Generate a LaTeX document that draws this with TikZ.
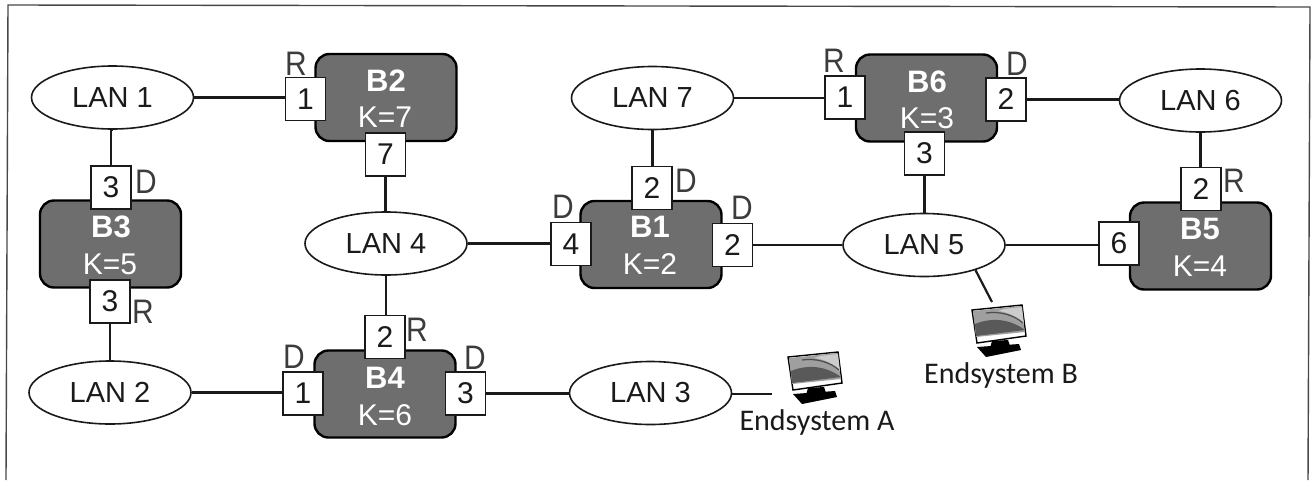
\documentclass[tikz,border=0pt]{standalone}
\usepackage{fontspec}
\setmainfont{Liberation Sans}
\newfontfamily\calib{Carlito}
\newfontfamily\condlabel[FakeStretch=0.88]{Liberation Sans}
\usetikzlibrary{shapes.geometric}
\definecolor{bridgefill}{HTML}{6E6E6E}
\definecolor{ink}{HTML}{1A1A1A}
\tikzset{
  lan/.style={ellipse,draw=ink,line width=1.6pt,fill=white,minimum width=162pt,minimum height=63pt,inner sep=0pt,font=\fontsize{29}{30}\selectfont,text=ink},
  bridge/.style={draw=black,line width=2.4pt,fill=bridgefill,rounded corners=14pt,minimum width=141pt,minimum height=87pt,inner sep=0pt},
  port/.style={draw=ink,line width=1.4pt,fill=white,minimum width=40pt,minimum height=43pt,inner sep=0pt,font=\fontsize{30}{30}\selectfont,text=ink},
  bname/.style={inner sep=0pt,text=white,font=\fontsize{31}{32}\selectfont\bfseries},
  kval/.style={inner sep=0pt,text=white,font=\fontsize{30}{32}\selectfont},
  role/.style={inner sep=0pt,text=ink!85,font=\fontsize{34}{36}\selectfont\condlabel},
  link/.style={line width=2.2pt,draw=ink},
  endname/.style={inner sep=0pt,anchor=base,text=ink,font=\fontsize{30}{32}\selectfont\calib},
  frameline/.style={line width=1.4pt,draw=ink!80}
}
\newcommand{\monitor}[2]{%
  \begin{scope}[shift={(#1,#2)}]
    \fill[black] (5,42) -- (47,39) -- (49,45) -- (14,52) -- cycle;
    \fill[black] (20,36) -- (36,35) -- (38,41) -- (18,43) -- cycle;
    \fill[white,draw=black,line width=1.4pt] (0,5) -- (50,0) -- (54,31) -- (5,38) -- cycle;
    \fill[gray!75] (1,6) -- (49,1) -- (53,27) -- (4,32) -- cycle;
    \fill[black!65] (3,19) .. controls (20,12) and (38,14) .. (53,25) -- (4,31) -- cycle;
    \fill[white!80!black] (26,6) .. controls (36,7) and (46,12) .. (52,19) -- (50,2) -- (32,4) -- cycle;
    \draw[black!70,line width=1.2pt] (14,8) .. controls (28,6) and (42,10) .. (51,18);
  \end{scope}}
\begin{document}
\begin{tikzpicture}[x=1pt,y=-1pt]
\useasboundingbox (0,0) rectangle (1313,480);
\coordinate (fbl) at (6,480);
\coordinate (ftl) at (8,5);
\coordinate (ftr) at (1310,7);
\coordinate (fbr) at (1308,480);
\draw[frameline] (fbl) -- (ftl) -- (ftr) -- (fbr);

% bridges
\node[bridge] (B2) at (386,97.5) {};
\node[bridge] (B3) at (110.5,244) {};
\node[bridge] (B4) at (385,394) {};
\node[bridge] (B1) at (651,244.5) {};
\node[bridge] (B6) at (926.5,98) {};
\node[bridge] (B5) at (1200.5,246) {};

\node[bname] (tB2) at (386,81) {B2};
\node[kval] (kB2) at (385,117) {K=7};
\node[bname] (tB3) at (111,227) {B3};
\node[kval] (kB3) at (110,264) {K=5};
\node[bname] (tB4) at (385,378) {B4};
\node[kval] (kB4) at (385,415) {K=6};
\node[bname] (tB1) at (650,227) {B1};
\node[kval] (kB1) at (650,264) {K=2};
\node[bname] (tB6) at (927,82) {B6};
\node[kval] (kB6) at (927,118) {K=3};
\node[bname] (tB5) at (1200,229) {B5};
\node[kval] (kB5) at (1200,266) {K=4};

% ports
\node[port] (p21) at (305.5,99) {1};
\node[port] (p27) at (385.5,154.5) {7};
\node[port] (p3t) at (111,187.5) {3};
\node[port] (p3b) at (110,301.5) {3};
\node[port] (p42) at (385,337) {2};
\node[port] (p41) at (303,393.5) {1};
\node[port] (p43) at (465.5,393.5) {3};
\node[port] (p1t) at (652,188) {2};
\node[port] (p14) at (571,244) {4};
\node[port] (p1r) at (732.5,245) {2};
\node[port] (p61) at (845,97.5) {1};
\node[port] (p63) at (924.5,153.5) {3};
\node[port] (p62) at (1006,99.5) {2};
\node[port] (p52) at (1201,189) {2};
\node[port] (p56) at (1119,243.5) {6};

% LANs
\node[lan] (L1) at (112.5,97.5) {LAN 1};
\node[lan] (L2) at (110,392.5) {LAN 2};
\node[lan] (L3) at (650.5,393) {LAN 3};
\node[lan] (L4) at (386,243.5) {LAN 4};
\node[lan] (L5) at (924,245) {LAN 5};
\node[lan] (L6) at (1200.5,100.5) {LAN 6};
\node[lan] (L7) at (652.5,98) {LAN 7};

% role labels
\node[role] (r21) at (296,64) {R};
\node[role] (r3t) at (146,182) {D};
\node[role] (r3b) at (143,312) {R};
\node[role] (r42) at (417,330) {R};
\node[role] (r41) at (294,357) {D};
\node[role] (r43) at (475,358) {D};
\node[role] (r1t) at (686,181) {D};
\node[role] (r14) at (563,207) {D};
\node[role] (r1r) at (742,208) {D};
\node[role] (r61) at (834,61) {R};
\node[role] (r62) at (1017,64) {D};
\node[role] (r52) at (1234,181) {R};

% links
\draw[link] (L1.east) -- (L1.east -| p21.west);
\draw[link] (L1.south) -- (L1.south -| p3t.north) -- (p3t.north);
\draw[link] (p3b.south) -- (p3b.south |- L2.north);
\draw[link] (p27.south) -- (p27.south |- L4.north);
\draw[link] (L4.south) -- (L4.south |- p42.north);
\draw[link] (L2.east) -- (L2.east -| p41.west);
\draw[link] (p43.east) -- (p43.east -| L3.west);
\draw[link] (L4.east) -- (L4.east -| p14.west);
\draw[link] (L7.south) -- (L7.south |- p1t.north);
\draw[link] (L7.east) -- (L7.east -| p61.west);
\draw[link] (p1r.east) -- (p1r.east -| L5.west);
\draw[link] (p63.south) -- (p63.south |- L5.north);
\draw[link] (L5.east) -- (L5.east -| p56.west);
\draw[link] (p62.east) -- (p62.east -| L6.west);
\draw[link] (L6.south) -- (L6.south |- p52.north);
\coordinate (endA) at (772,394);
\coordinate (endB) at (992,302);
\draw[link] (L3.east) -- (L3.east |- endA) -- (endA);
\draw[link] (L5.-26) -- (endB);

% end systems
\monitor{788}{352}
\monitor{972}{305}
\node[endname] (eA) at (817,430) {Endsystem A};
\node[endname] (eB) at (1001,383) {Endsystem B};
\end{tikzpicture}
\end{document}
